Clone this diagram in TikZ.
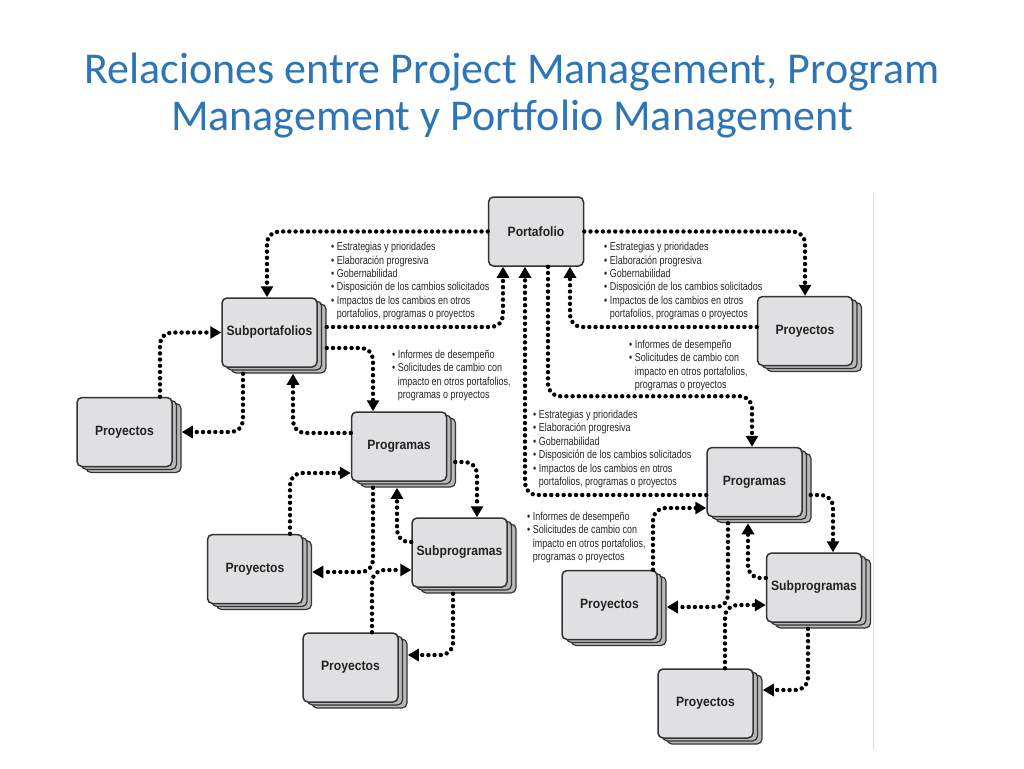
\documentclass[tikz,border=0pt]{standalone}
\usepackage{fontspec}
\setmainfont{Liberation Sans}
\newfontfamily\titlefont{Carlito}
\newfontfamily\boxfont[FakeStretch=0.9]{Liberation Sans}
\newfontfamily\notefont[FakeStretch=0.78]{Liberation Sans}
\usetikzlibrary{arrows.meta,shadows,calc}
\definecolor{titleblue}{HTML}{2E75B6}
\definecolor{boxfill}{HTML}{E0E0E2}
\definecolor{boxline}{HTML}{333333}
\definecolor{labelgray}{HTML}{222222}
\definecolor{notegray}{HTML}{262626}
\definecolor{framegray}{HTML}{DDDDDD}
\begin{document}
\begin{tikzpicture}[x=1pt,y=-1pt,
  card/.style={draw=boxline, line width=1.5pt, fill=boxfill, rounded corners=5pt,
    minimum width=95pt, minimum height=69pt, inner sep=0pt,
    font=\boxfont\bfseries\fontsize{13.5}{15}\selectfont, text=labelgray},
  stackcard/.style={card, double copy shadow={shadow xshift=4.5pt, shadow yshift=-3pt,
    fill=gray!55, draw=boxline, line width=1.2pt}},
  dotline/.style={line width=4.4pt, dash pattern=on 0pt off 6.2pt, line cap=round,
    rounded corners=12pt},
  conn/.style={dotline, -{Triangle[width=12pt,length=11pt]}},
  note/.style={anchor=north west, inner sep=0pt, align=left,
    font=\notefont\fontsize{11.5}{13.4}\selectfont, text=notegray}
]
\useasboundingbox (0,0) rectangle (1024,768);
\fill[white] (0,0) rectangle (1024,768);

% title
\node[font=\titlefont\fontsize{44}{47}\selectfont, text=titleblue, align=center,
  anchor=north, inner sep=0pt] (title) at (512,50)
  {\strut Relaciones entre Project Management, Program\\Management y Portfolio Management};

% frame edge of the figure
\draw[framegray, line width=1pt] (873,193) -- (873,750);

% boxes
\node[card] (port) at (536,231.5) {Portafolio};
\node[stackcard] (subp) at (269.5,332.5) {Subportafolios};
\node[stackcard] (proyTR) at (805,331) {Proyectos};
\node[stackcard] (proyL) at (124.5,432) {Proyectos};
\node[stackcard] (progM) at (399,446.5) {Programas};
\node[stackcard] (proyML) at (255,569) {Proyectos};
\node[stackcard] (subpM) at (459.5,552.5) {Subprogramas};
\node[stackcard] (proyBM) at (350.5,667.5) {Proyectos};
\node[stackcard] (progR) at (754.5,482) {Programas};
\node[stackcard] (proyRL) at (609.5,605) {Proyectos};
\node[stackcard] (subpR) at (814,587.5) {Subprogramas};
\node[stackcard] (proyBR) at (705.5,703.5) {Proyectos};

% connectors around Portafolio
\draw[conn] (port.west) -| ([xshift=-2.5pt]subp.north);
\draw[conn] ([xshift=9pt,yshift=5.5pt]subp.east) -| ([xshift=-33pt]port.south);
\draw[conn] ([yshift=-13pt]progR.west) -| ([xshift=-11pt]port.south);
\draw[conn] ([xshift=12pt]port.south) |- ([xshift=-2.5pt,yshift=50.5pt]progR.north)
  -- ([xshift=-2.5pt]progR.north);
\draw[conn] ([yshift=4pt]proyTR.west) -| ([xshift=34pt]port.south);
\draw[conn] (port.east) -| (proyTR.north);

% left group
\draw[conn] ([xshift=35.5pt]proyL.north) |- (subp.west);
\draw[conn] ([xshift=-26.5pt,yshift=-6pt]subp.south) |- ([xshift=9pt]proyL.east);
\draw[conn] ([xshift=9pt,yshift=-15.5pt]subp.east) -| ([xshift=-26pt]progM.north);
\draw[conn] ([yshift=13.5pt]progM.west) -| ([xshift=23.5pt,yshift=-6pt]subp.south);
\draw[conn] ([xshift=35pt]proyML.north) |- ([yshift=-26.5pt]progM.west);
\draw[conn] ([xshift=-26pt,yshift=-6pt]progM.south) |- ([xshift=9pt,yshift=-3pt]proyML.east);
\draw[conn] ([xshift=8pt,yshift=-15.5pt]progM.east) -| ([xshift=17.5pt]subpM.north);
\draw[conn] ([yshift=10.5pt]subpM.west) -| ([xshift=-2pt,yshift=-6pt]progM.south);
\draw[conn] ([xshift=21.5pt]proyBM.north) |- ([yshift=-17.5pt]subpM.west);
\draw[conn] ([xshift=-6.5pt,yshift=-6pt]subpM.south) |- ([xshift=9pt,yshift=12.5pt]proyBM.east);

% right group
\draw[conn] ([xshift=43.5pt]proyRL.north) |- ([yshift=-26pt]progR.west);
\draw[conn] ([xshift=-26.5pt,yshift=-6pt]progR.south) |- ([xshift=9pt,yshift=-2pt]proyRL.east);
\draw[conn] ([xshift=8pt,yshift=-13pt]progR.east) -| ([xshift=19pt]subpR.north);
\draw[conn] ([yshift=9.5pt]subpR.west) -| ([xshift=-6.5pt,yshift=-6pt]progR.south);
\draw[conn] ([xshift=19.5pt]proyBR.north) |- ([yshift=-17.5pt]subpR.west);
\draw[conn] ([xshift=-6pt,yshift=-6pt]subpR.south) |- ([xshift=9pt,yshift=13.5pt]proyBR.east);

% notes
\node[note] (noteA) at (331,241.1) {\strut• Estrategias y prioridades\\• Elaboración progresiva\\• Gobernabilidad\\• Disposición de los cambios solicitados\\• Impactos de los cambios en otros\\\hphantom{• }portafolios, programas o proyectos};
\node[note] (noteB) at (604,241.1) {\strut• Estrategias y prioridades\\• Elaboración progresiva\\• Gobernabilidad\\• Disposición de los cambios solicitados\\• Impactos de los cambios en otros\\\hphantom{• }portafolios, programas o proyectos};
\node[note] (noteC) at (392,349) {\strut• Informes de desempeño\\• Solicitudes de cambio con\\\hphantom{• }impacto en otros portafolios,\\\hphantom{• }programas o proyectos};
\node[note] (noteD) at (629,339) {\strut• Informes de desempeño\\• Solicitudes de cambio con\\\hphantom{• }impacto en otros portafolios,\\\hphantom{• }programas o proyectos};
\node[note] (noteE) at (533,409) {\strut• Estrategias y prioridades\\• Elaboración progresiva\\• Gobernabilidad\\• Disposición de los cambios solicitados\\• Impactos de los cambios en otros\\\hphantom{• }portafolios, programas o proyectos};
\node[note] (noteF) at (527,511) {\strut• Informes de desempeño\\• Solicitudes de cambio con\\\hphantom{• }impacto en otros portafolios,\\\hphantom{• }programas o proyectos};
\end{tikzpicture}
\end{document}
